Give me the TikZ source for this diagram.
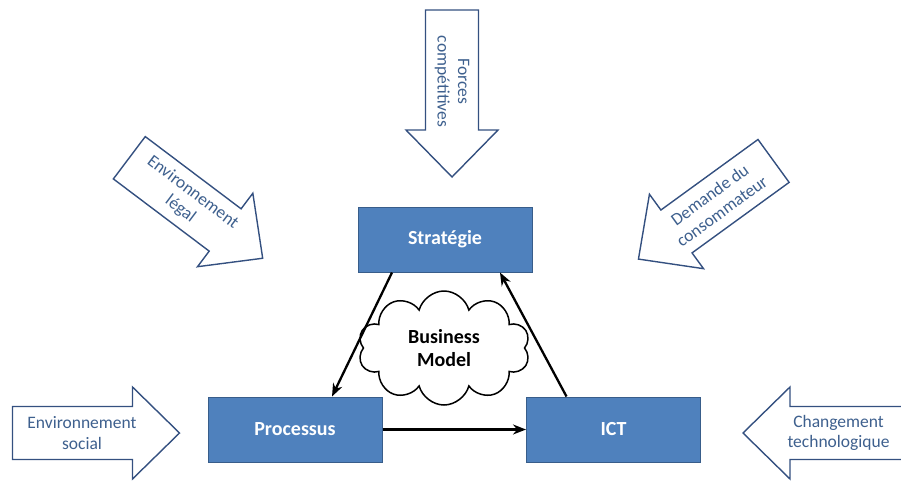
\documentclass[tikz,border=0pt]{standalone}
\usepackage{fontspec}
\setmainfont{Carlito}
\usepackage{tikz}
\usetikzlibrary{arrows.meta,shapes.symbols,calc}
\definecolor{boxblue}{RGB}{79,129,189}
\definecolor{boxborder}{RGB}{56,93,138}
\definecolor{arrowblue}{RGB}{52,80,128}
\definecolor{textblue}{RGB}{62,96,142}

\tikzset{
  boxnode/.style={draw=boxborder, fill=boxblue, line width=1pt, minimum width=174pt, minimum height=65pt,
    text=white, font=\bfseries\fontsize{20}{24}\selectfont},
  forcearrow/.style={draw=arrowblue, fill=white, line width=1.4pt, line join=miter},
  forcetext/.style={text=textblue, align=center, inner sep=0pt, font=\fontsize{17.5}{20.5}\selectfont},
  link/.style={-{Stealth[length=13pt,width=10pt]}, line width=2.3pt},
}

\begin{document}
\begin{tikzpicture}[x=1pt,y=-1pt]
        \def\arrl{83.5}
        \def\arrs{26.5}
        \def\arrh{46}
        \def\arrk{47}
        \useasboundingbox (0,0) rectangle (901,482);
        \clip (0,0) rectangle (901,482);
        %Forces (top)
        \begin{scope}[shift={(452,93.5)},rotate=-90,transform shape]
          \draw[forcearrow] (-\arrl,-\arrs) -- (\arrl-\arrk,-\arrs) -- (\arrl-\arrk,-\arrh) -- (\arrl,0)
            -- (\arrl-\arrk,\arrh) -- (\arrl-\arrk,\arrs) -- (-\arrl,\arrs) -- cycle;
          \node[forcetext] (forces) at (-12,0) {Forces\\compétitives};
        \end{scope}
        %Environnement legal (top left)
        \begin{scope}[shift={(196,208)},rotate=-37,transform shape]
          \draw[forcearrow] (-\arrl,-\arrs) -- (\arrl-\arrk,-\arrs) -- (\arrl-\arrk,-\arrh) -- (\arrl,0)
            -- (\arrl-\arrk,\arrh) -- (\arrl-\arrk,\arrs) -- (-\arrl,\arrs) -- cycle;
          \node[forcetext] (legal) at (-12,0) {Environnement\\légal};
        \end{scope}
        %Demande (top right)
        \begin{scope}[shift={(706,210)},rotate=36,transform shape]
          \draw[forcearrow,xscale=-1] (-\arrl,-\arrs) -- (\arrl-\arrk,-\arrs) -- (\arrl-\arrk,-\arrh) -- (\arrl,0)
            -- (\arrl-\arrk,\arrh) -- (\arrl-\arrk,\arrs) -- (-\arrl,\arrs) -- cycle;
          \node[forcetext] (demande) at (12,0) {Demande du\\consommateur};
        \end{scope}
        %Environnement social (bottom left)
        \begin{scope}[shift={(96,433)}]
          \draw[forcearrow] (-\arrl,-\arrs) -- (\arrl-\arrk,-\arrs) -- (\arrl-\arrk,-\arrh) -- (\arrl,0)
            -- (\arrl-\arrk,\arrh) -- (\arrl-\arrk,\arrs) -- (-\arrl,\arrs) -- cycle;
          \node[forcetext] (social) at (-14,0) {Environnement\\social};
        \end{scope}
        %Changement technologique (bottom right)
        \begin{scope}[shift={(826.5,433)}]
          \draw[forcearrow,xscale=-1] (-\arrl,-\arrs) -- (\arrl-\arrk,-\arrs) -- (\arrl-\arrk,-\arrh) -- (\arrl,0)
            -- (\arrl-\arrk,\arrh) -- (\arrl-\arrk,\arrs) -- (-\arrl,\arrs) -- cycle;
          \node[forcetext] (techno) at (12,0) {Changement\\technologique};
        \end{scope}
        %Boxes
        \node[boxnode] (strat) at (445,239.5) {Stratégie};
        \node[boxnode] (proc) at (295,429.5) {Processus};
        \node[boxnode] (ict) at (613.5,429.5) {ICT};
        %Cloud
        \node[cloud, cloud puffs=10, aspect=1.45, draw, fill=white, line width=1.5pt, minimum width=172pt,
          minimum height=114pt, inner sep=0pt, align=center, font=\bfseries\fontsize{20}{23}\selectfont] (bm) at (444,348) {Business\\Model};
        %Links
        \draw[link] ([xshift=-53pt]strat.south) -- ([xshift=37pt]proc.north);
        \draw[link] (proc.east) -- (ict.west);
        \draw[link] ([xshift=-47pt]ict.north) -- ([xshift=55pt]strat.south);
      \end{tikzpicture}
\end{document}
